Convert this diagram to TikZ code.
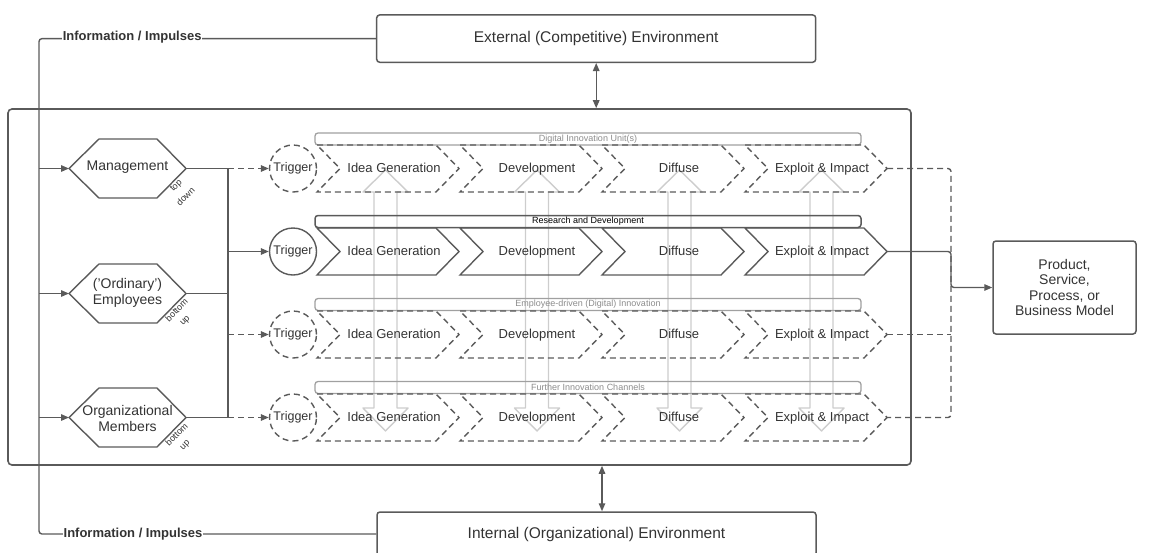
\documentclass[tikz,border=0pt]{standalone}
\usepackage{fontspec}
\setmainfont{Liberation Sans}
\usetikzlibrary{arrows.meta}
\definecolor{ln}{HTML}{5A5A5A}
\definecolor{tx}{HTML}{333333}
\definecolor{lg}{HTML}{CDCDCD}
\definecolor{gtx}{HTML}{8C8C8C}
\definecolor{gbr}{HTML}{A0A0A0}
% hexagon: name, centre x, centre y
\newcommand{\hexat}[3]{%
  \draw[ln,line join=round] (#2-58.5,#3) -- (#2-28.5,#3-29.5) -- (#2+29.5,#3-29.5) -- (#2+58.5,#3) -- (#2+29.5,#3+29.5) -- (#2-28.5,#3+29.5) -- cycle;
  \coordinate (#1W) at (#2-58.5,#3);
  \coordinate (#1E) at (#2+58.5,#3);}
% chevron: name, left x, centre y, style, text
\newcommand{\chevat}[5]{%
  \draw[#4] (#2,#3-23.5) -- (#2+119,#3-23.5) -- (#2+142,#3) -- (#2+119,#3+23.5) -- (#2,#3+23.5) -- (#2+23,#3) -- cycle;
  \node[chevtext] (#1) at (#2+77,#3) {#5};
  \coordinate (#1tip) at (#2+142,#3);}
% light double block arrow: centre x
\newcommand{\blockarrow}[1]{%
  \draw[draw=lg,line width=1.4pt,line join=round] (#1-11.5,192) -- (#1-22.5,192) -- (#1,170) -- (#1+22.5,192) -- (#1+11.5,192) -- (#1+11.5,408) -- (#1+22.5,408) -- (#1,431) -- (#1-22.5,408) -- (#1-11.5,408) -- cycle;}
\begin{document}
\begin{tikzpicture}[x=1pt,y=-1pt,
  ln/.style={draw=ln,line width=1.4pt},
  tip/.style={-{Triangle[length=8pt,width=6.5pt]}},
  dtip/.style={{Triangle[length=8pt,width=6.5pt]}-{Triangle[length=8pt,width=6.5pt]}},
  dsh/.style={dash pattern=on 6pt off 4pt},
  envbox/.style={draw=ln,line width=1.5pt,rounded corners=3pt,minimum width=439pt,minimum height=47.3pt,inner sep=0pt,text=tx,font=\fontsize{15.5}{18}\selectfont},
  infotext/.style={fill=white,inner sep=0.6pt,text=tx,font=\fontsize{13}{15}\selectfont\bfseries},
  hext/.style={inner sep=0pt,text=tx,align=center,font=\fontsize{14}{16.5}\selectfont},
  rotlbl/.style={inner sep=0pt,text=tx,rotate=45,font=\fontsize{9}{10}\selectfont},
  trig/.style={circle,draw=ln,line width=1.4pt,minimum size=47pt,inner sep=0pt,text=tx,text height=9pt,text depth=2.5pt,font=\fontsize{12.5}{14}\selectfont},
  chevtext/.style={inner sep=0pt,text=tx,text height=9.5pt,text depth=2.5pt,font=\fontsize{13}{15}\selectfont},
  schev/.style={ln,line join=miter},
  dchev/.style={ln,dsh,line join=miter},
  gbar/.style={draw=gbr,line width=1.3pt,rounded corners=3pt,minimum width=546pt,minimum height=12pt,inner sep=0pt,text=gtx,font=\fontsize{9}{10}\selectfont},
  dbar/.style={draw=ln,line width=1.5pt,rounded corners=3pt,minimum width=546pt,minimum height=12pt,inner sep=0pt,text=black,font=\fontsize{9}{10}\selectfont},
  prodbox/.style={draw=ln,line width=1.5pt,rounded corners=3pt,minimum width=143pt,minimum height=93pt,inner sep=0pt,text=tx,align=center,font=\fontsize{14}{15.5}\selectfont}]
\useasboundingbox (0,0) rectangle (1156,552);
\clip (0,0) rectangle (1156,552);

% environment boxes
\node[envbox] (ext) at (596.2,38.6) {External (Competitive) Environment};
\node[envbox,minimum height=44pt] (int) at (596.5,534) {Internal (Organizational) Environment};

% organisation box
\node[draw=ln,line width=1.6pt,rounded corners=4pt,minimum width=903pt,minimum height=356pt,inner sep=0pt] (org) at (459.5,287) {};

% information / impulses
\draw[ln,rounded corners=3pt] (ext.west) -- (39,38.6) -- (39,534) -- (int.west);
\node[infotext] (inf1) at (132.2,37.4) {Information / Impulses};
\node[infotext] (inf2) at (133,534) {Information / Impulses};

% environment exchange arrows
\coordinate (bx) at (602,0);
\draw[ln,dtip] (ext.south) -- (ext.south |- org.north);
\draw[ln,dtip] (org.south -| bx) -- (int.north -| bx);

% light vertical block arrows
\blockarrow{385.5}
\blockarrow{537}
\blockarrow{679.5}
\blockarrow{821.5}

% actors
\hexat{mg}{127.5}{168.5}
\hexat{em}{127.5}{293.5}
\hexat{om}{127.5}{417.5}
\node[hext] (mgT) at (127.5,167.5) {Management};
\node[hext] (emT) at (127.5,293) {('Ordinary')\\Employees};
\node[hext] (omT) at (127.5,418.5) {Organizational\\Members};
\node[rotlbl] (lb1a) at (176.5,186) {top};
\node[rotlbl] (lb1b) at (185.5,196.5) {down};
\node[rotlbl] (lb2a) at (176.5,310) {bottom};
\node[rotlbl] (lb2b) at (185.5,321) {up};
\node[rotlbl] (lb3a) at (176.5,434.5) {bottom};
\node[rotlbl] (lb3b) at (185.5,445.5) {up};

% left inputs
\coordinate (l1) at (39,168.5);
\coordinate (l2) at (39,293.5);
\coordinate (l3) at (39,417.5);
\draw[ln,tip] (l1) -- (mgW);
\draw[ln,tip] (l2) -- (emW);
\draw[ln,tip] (l3) -- (omW);

% junction
\coordinate (j1) at (228,168.5);
\coordinate (j2) at (228,293.5);
\coordinate (j3) at (228,417.5);
\coordinate (k2) at (228,251.5);
\coordinate (k3) at (228,334.5);
\draw[ln] (mgE) -- (j1);
\draw[ln] (emE) -- (j2);
\draw[ln] (omE) -- (j3);
\draw[ln] (j1) -- (j3);

% triggers
\node[trig,dsh] (t1) at (293,168.5) {Trigger};
\node[trig] (t2) at (293,251.5) {Trigger};
\node[trig,dsh] (t3) at (293,334.5) {Trigger};
\node[trig,dsh] (t4) at (293,417.5) {Trigger};
\draw[ln,dsh,tip] (j1) -- (t1);
\draw[ln,tip] (k2) -- (t2);
\draw[ln,dsh,tip] (k3) -- (t3);
\draw[ln,dsh,tip] (j3) -- (t4);

% channel bars
\node[gbar] (bar1) at (588,139) {Digital Innovation Unit(s)};
\node[dbar] (bar2) at (588,221.5) {Research and Development};
\node[gbar] (bar3) at (588,304.5) {Employee-driven (Digital) Innovation};
\node[gbar] (bar4) at (588,387.5) {Further Innovation Channels};

% chevrons
\chevat{ig1}{317}{168.5}{dchev}{Idea Generation}
\chevat{dv1}{460}{168.5}{dchev}{Development}
\chevat{df1}{602}{168.5}{dchev}{Diffuse}
\chevat{ex1}{745}{168.5}{dchev}{Exploit \& Impact}
\chevat{ig2}{317}{251.5}{schev}{Idea Generation}
\chevat{dv2}{460}{251.5}{schev}{Development}
\chevat{df2}{602}{251.5}{schev}{Diffuse}
\chevat{ex2}{745}{251.5}{schev}{Exploit \& Impact}
\chevat{ig3}{317}{334.5}{dchev}{Idea Generation}
\chevat{dv3}{460}{334.5}{dchev}{Development}
\chevat{df3}{602}{334.5}{dchev}{Diffuse}
\chevat{ex3}{745}{334.5}{dchev}{Exploit \& Impact}
\chevat{ig4}{317}{417.5}{dchev}{Idea Generation}
\chevat{dv4}{460}{417.5}{dchev}{Development}
\chevat{df4}{602}{417.5}{dchev}{Diffuse}
\chevat{ex4}{745}{417.5}{dchev}{Exploit \& Impact}

% outcome
\node[prodbox] (prod) at (1064.5,287.5) {Product,\\Service,\\Process, or\\Business Model};
\coordinate (r1) at (951,168.5);
\coordinate (r2) at (951,251.5);
\coordinate (r3) at (951,334.5);
\coordinate (r4) at (951,417.5);
\coordinate (rm) at (951,287.5);
\draw[ln,dsh,rounded corners=3pt] (ex1tip) -- (r1) -- (r4) -- (ex4tip);
\draw[ln,dsh] (ex3tip) -- (r3);
\draw[ln,tip,rounded corners=3pt] (ex2tip) -- (r2) -- (rm) -- (prod);
\end{tikzpicture}
\end{document}
